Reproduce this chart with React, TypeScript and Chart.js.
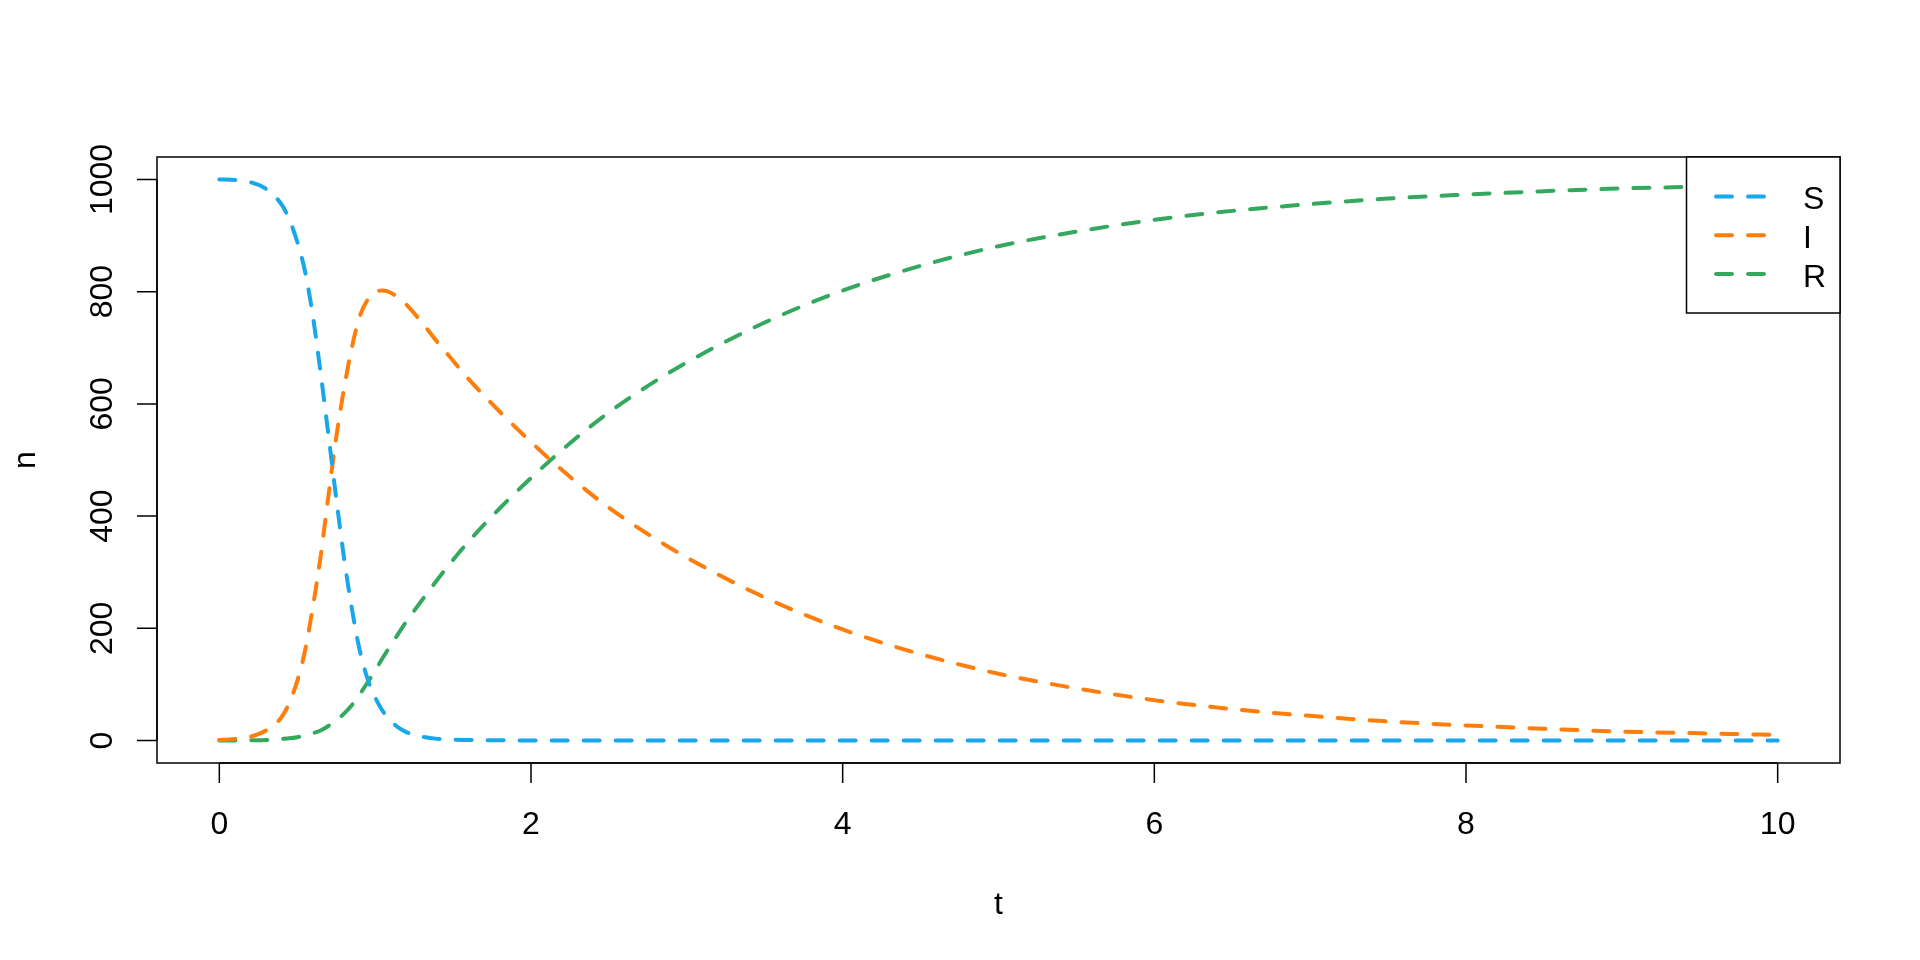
import { useEffect, useRef } from "react";
import { Chart, registerables } from "chart.js";

Chart.register(...registerables);

const tValues = [
  0, 0.1, 0.2, 0.3, 0.4, 0.45, 0.5, 0.55, 0.6, 0.65,
  0.7, 0.75, 0.8, 0.85, 0.9, 0.95, 1.0, 1.05, 1.1, 1.15,
  1.2, 1.3, 1.4, 1.5, 1.6, 1.8, 2.0, 2.25, 2.5, 2.75,
  3.0, 3.5, 4.0, 4.5, 5.0, 5.5, 6.0, 6.5, 7.0, 7.5,
  8.0, 8.5, 9.0, 9.5, 10,
];
const sValues = [
  1000, 999, 995, 983, 955, 928, 889, 836, 757, 655,
  545, 432, 326, 236, 162, 111, 77, 52, 35, 23,
  15, 7, 3, 1.5, 1, 0.5, 0, 0, 0, 0,
  0, 0, 0, 0, 0, 0, 0, 0, 0, 0,
  0, 0, 0, 0, 0,
];
const iValues = [
  1, 3, 7, 18, 42, 68, 106, 160, 238, 328,
  436, 540, 627, 700, 755, 785, 799, 802, 798, 789,
  777, 745, 710, 677, 644, 586, 532, 470, 415, 368,
  326, 255, 198, 154, 119, 93, 72, 56, 44, 34,
  27, 21, 16, 13, 10,
];
const rValues = [
  0, 0, 0.5, 1, 3, 4, 6, 9, 13, 18,
  26, 36, 48, 63, 82, 103, 125, 148, 170, 191,
  212, 250, 287, 322, 355, 414, 468, 530, 585, 632,
  674, 745, 802, 846, 881, 907, 928, 944, 956, 966,
  973, 979, 984, 987, 990,
];

const xTicks = [0, 2, 4, 6, 8, 10];
const yTicks = [0, 200, 400, 600, 800, 1000];
const seriesNames = ["S", "I", "R"];
const seriesColors = ["#18A7EA", "#FF7D0A", "#34A85E"];
const xLabel = "t";
const yLabel = "n";

const FONT = '32px "Liberation Sans", Arial, Helvetica, sans-serif';

const rStylePlugin = {
  id: "rStyle",
  afterDraw(chart: any) {
    const ctx = chart.ctx as CanvasRenderingContext2D;
    const { left, right, top, bottom } = chart.chartArea;
    const xs = chart.scales.x;
    const ys = chart.scales.y;
    ctx.save();
    ctx.setLineDash([]);
    ctx.strokeStyle = "#000";
    ctx.fillStyle = "#000";
    ctx.lineWidth = 1.5;
    ctx.lineCap = "butt";

    // box
    ctx.strokeRect(left, top, right - left, bottom - top);

    // x axis
    ctx.beginPath();
    const xa = xs.getPixelForValue(xTicks[0]);
    const xb = xs.getPixelForValue(xTicks[xTicks.length - 1]);
    ctx.moveTo(xa, bottom);
    ctx.lineTo(xb, bottom);
    xTicks.forEach((v) => {
      const px = xs.getPixelForValue(v);
      ctx.moveTo(px, bottom);
      ctx.lineTo(px, bottom + 20);
    });
    // y axis
    const ya = ys.getPixelForValue(yTicks[0]);
    const yb = ys.getPixelForValue(yTicks[yTicks.length - 1]);
    ctx.moveTo(left, ya);
    ctx.lineTo(left, yb);
    yTicks.forEach((v) => {
      const py = ys.getPixelForValue(v);
      ctx.moveTo(left, py);
      ctx.lineTo(left - 20, py);
    });
    ctx.stroke();

    ctx.font = FONT;
    ctx.textAlign = "center";
    ctx.textBaseline = "alphabetic";
    xTicks.forEach((v) => {
      const px = xs.getPixelForValue(v);
      ctx.fillText(String(v), px, bottom + 71);
    });
    yTicks.forEach((v) => {
      const py = ys.getPixelForValue(v);
      ctx.save();
      ctx.translate(left - 45.5, py);
      ctx.rotate(-Math.PI / 2);
      ctx.fillText(String(v), 0, 0);
      ctx.restore();
    });

    // axis titles
    ctx.fillText(xLabel, (left + right) / 2, bottom + 151);
    ctx.save();
    ctx.translate(35, (top + bottom) / 2);
    ctx.rotate(-Math.PI / 2);
    ctx.fillText(yLabel, 0, 0);
    ctx.restore();

    // legend
    const lw = 153.5;
    const lh = 156;
    const lx = right - lw;
    const ly = top;
    ctx.fillStyle = "#fff";
    ctx.fillRect(lx, ly, lw, lh);
    ctx.strokeStyle = "#000";
    ctx.lineWidth = 1.5;
    ctx.strokeRect(lx, ly, lw, lh);
    const rows = [39.4, 78.2, 117];
    seriesNames.forEach((name, i) => {
      const y = ly + rows[i];
      ctx.beginPath();
      ctx.strokeStyle = seriesColors[i];
      ctx.lineWidth = 4;
      ctx.lineCap = "round";
      ctx.setLineDash([16, 16]);
      ctx.moveTo(right - 124, y);
      ctx.lineTo(right - 76, y);
      ctx.stroke();
      ctx.setLineDash([]);
      ctx.fillStyle = "#000";
      ctx.textAlign = "left";
      ctx.fillText(name, right - 37, y + 12.8);
    });
    ctx.restore();
  },
};

export default function App() {
  const canvasRef = useRef<HTMLCanvasElement | null>(null);

  useEffect(() => {
    if (!canvasRef.current) return;
    const mk = (vals: number[]) => tValues.map((t, i) => ({ x: t, y: vals[i] }));
    const allSeries = [sValues, iValues, rValues];
    const chart = new Chart(canvasRef.current, {
      type: "line",
      data: {
        datasets: allSeries.map((vals, i) => ({
          label: seriesNames[i],
          data: mk(vals),
          borderColor: seriesColors[i],
          backgroundColor: seriesColors[i],
          borderWidth: 4,
          borderDash: [16, 16],
          borderCapStyle: "round" as const,
          borderJoinStyle: "round" as const,
          pointRadius: 0,
          pointHoverRadius: 0,
          fill: false,
          cubicInterpolationMode: "monotone" as const,
        })),
      },
      options: {
        animation: false,
        responsive: false,
        devicePixelRatio: 1,
        events: [],
        layout: { padding: { left: 157, right: 80, top: 157, bottom: 197 } },
        plugins: {
          legend: { display: false },
          tooltip: { enabled: false },
          title: { display: false },
        },
        scales: {
          x: { type: "linear", min: -0.4, max: 10.4, display: false },
          y: { type: "linear", min: -40, max: 1040, display: false },
        },
      },
      plugins: [rStylePlugin],
    });
    return () => chart.destroy();
  }, []);

  return (
    <div style={{ position: "absolute", left: 0, top: 0, width: 1920, height: 960, background: "#fff" }}>
      <canvas ref={canvasRef} width={1920} height={960} style={{ width: 1920, height: 960, display: "block" }} />
    </div>
  );
}
